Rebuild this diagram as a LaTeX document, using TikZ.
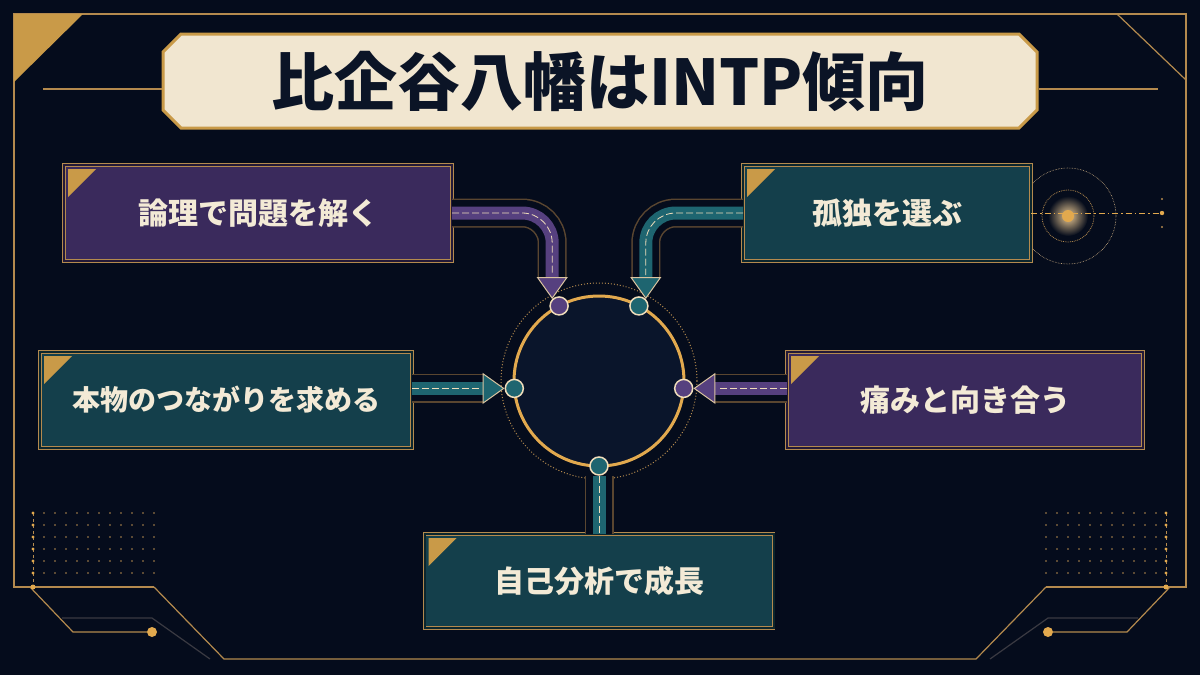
\documentclass[tikz,border=0pt]{standalone}
\usepackage{fontspec}
\setmainfont{Noto Sans CJK JP}
\usepackage{tikz}
\usetikzlibrary{positioning, arrows.meta, shapes.misc}
\definecolor{BgNavy}{HTML}{050C1C}
\definecolor{RingNavy}{HTML}{0A152B}
\definecolor{FrameGold}{HTML}{B48A4E}
\definecolor{BrightGold}{HTML}{E2A94E}
\definecolor{CornerGold}{HTML}{C99A48}
\definecolor{Cream}{HTML}{F3EAD6}
\definecolor{TitlePaper}{HTML}{F1E6D0}
\definecolor{TitleInk}{HTML}{0B1426}
\definecolor{BoxPurple}{HTML}{3A2A5C}
\definecolor{BoxTeal}{HTML}{143F4B}
\definecolor{ArrowPurple}{HTML}{56407F}
\definecolor{ArrowTeal}{HTML}{1E6570}
\definecolor{ChanLine}{HTML}{5A4630}
\definecolor{DimLine}{HTML}{3A3A42}

\begin{document}
\begin{tikzpicture}[
            x=1pt, y=-1pt,
            frame/.style={draw=FrameGold, line width=1.2pt},
            dimframe/.style={draw=DimLine, line width=1.2pt},
            titlebox/.style={chamfered rectangle, chamfered rectangle sep=9pt, draw=CornerGold, line width=3pt, fill=TitlePaper, text=TitleInk, minimum width=874pt, minimum height=94pt, inner sep=0pt, font=\fontsize{63}{66}\selectfont\bfseries},
            card/.style={draw=FrameGold, double=#1!60!black, double distance=2pt, line width=0.9pt, fill=#1, text=Cream, minimum height=96pt, inner sep=0pt, outer sep=0pt, font=\fontsize{30}{34}\selectfont\bfseries},
            port/.style={circle, draw=Cream!80!BrightGold, line width=1.5pt, fill=#1, minimum size=18pt, inner sep=0pt},
            ribbon/.style={draw=#1, line width=13pt, rounded corners=30pt,
                preaction={draw=ChanLine, line width=29pt, arrows=-, shorten >=22pt},
                preaction={draw=BgNavy, line width=26pt, arrows=-, shorten >=22pt},
                postaction={draw=Cream!80!BrightGold, line width=0.8pt, dash pattern=on 7pt off 3pt, arrows=-, shorten >=24pt},
                -{Triangle[length=22pt, width=31pt, line width=1pt, color=Cream!60!FrameGold, fill=#1]}},
            link/.style={draw=#1, line width=13pt,
                preaction={draw=ChanLine, line width=29pt},
                preaction={draw=BgNavy, line width=26pt},
                postaction={draw=Cream!80!BrightGold, line width=0.8pt, dash pattern=on 7pt off 3pt}}
        ]
            
            \useasboundingbox (0,0) rectangle (1200,675);
            \fill[BgNavy] (0,0) rectangle (1200,675);
            
            % outer frame
            \draw[frame] (154,587) -- (14,587) -- (14,14) -- (1186,14) -- (1186,587) -- (1046,587);
            \fill[CornerGold] (14,14) -- (83,14) -- (14,82) -- cycle;
            \draw[frame] (1117,14) -- (1186,80);
            \draw[frame] (154,587) -- (224,659) -- (976,659) -- (1046,587);
            \draw[dimframe] (62,618) -- (152,618) -- (210,659);
            \draw[dimframe] (1138,618) -- (1048,618) -- (990,659);
            \draw[frame] (30,587) -- (73,632) -- (147,632);
            \draw[frame] (1170,587) -- (1127,632) -- (1053,632);
            \fill[BrightGold] (152,632) circle (5) (1048,632) circle (5);
            
            % dot grids
            \foreach \i in {1,...,11}
                \foreach \j in {0,...,5}
                    \fill[FrameGold] (33+11*\i,513+12*\j) circle (0.9) (1167-11*\i,513+12*\j) circle (0.9);
            \draw[FrameGold, dashed, line width=0.8pt] (33,513) -- (33,587);
            \draw[FrameGold, dashed, line width=0.8pt] (1166,513) -- (1166,587);
            \foreach \j in {0,...,5}
                \fill[BrightGold] (33,513+12*\j) circle (1.6) (1166,513+12*\j) circle (1.6);
            \fill[BrightGold] (33,587) circle (2.5) (1166,587) circle (2.5);
            
            % title
            \node[titlebox] (title) at (600,81) {比企谷八幡はINTP傾向};
            \draw[frame] ([yshift=-8pt]title.west) -- ++(-119,0);
            \draw[frame] ([yshift=-8pt]title.east) -- ++(119,0);
            
            % beacon right of the second card
            \shade[inner color=BrightGold!60, outer color=BgNavy] (1068,216) circle (20);
            \draw[FrameGold, densely dotted, line width=0.8pt] (1068,216) circle (26);
            \draw[FrameGold!70, densely dotted, line width=0.6pt] (1068,216) circle (48);
            \fill[BrightGold] (1068,216) circle (6);
            
            % hub
            \node[circle, draw=FrameGold, dotted, line width=1pt, minimum size=196pt] (halo) at (599,381) {};
            \node[circle, draw=BrightGold, line width=3pt, fill=RingNavy, minimum size=170pt, inner sep=0pt, outer sep=0pt] (ring) at (599,381) {};
            
            % cards
            \node[card=BoxPurple, minimum width=388pt] (logic) at (258,213) {論理で問題を解く};
            \node[card=BoxTeal, minimum width=288pt] (solitude) at (887,213) {孤独を選ぶ};
            \node[card=BoxTeal, minimum width=372pt, font=\fontsize{28}{32}\selectfont\bfseries] (bond) at (226,400) {本物のつながりを求める};
            \node[card=BoxPurple, minimum width=356pt] (pain) at (965,400) {痛みと向き合う};
            \node[card=BoxTeal, minimum width=349pt, minimum height=94pt] (growth) at (599,581) {自己分析で成長};
            \foreach \b in {logic, solitude, bond, pain, growth}
                \fill[CornerGold] ([shift={(4,4)}]\b.north west) -- ++(28,0) -- ++(-28,28) -- cycle;
            
            \draw[BrightGold, line width=1pt, dash pattern=on 6pt off 3pt on 1.5pt off 3pt] (solitude.east) -- ++(130,0);
            \fill[BrightGold] (1162,213) circle (2.2);
            \fill[FrameGold] (1162,199) circle (1.2) (1162,227) circle (1.2);
            
            % ports on the ring
            \node[port=ArrowPurple] (pUL) at (ring.118) {};
            \node[port=ArrowTeal] (pUR) at (ring.62) {};
            \node[port=ArrowTeal] (pL) at (ring.185) {};
            \node[port=ArrowPurple] (pR) at (ring.355) {};
            \node[port=ArrowTeal] (pB) at (ring.270) {};
            
            % ribbons
            \draw[ribbon=ArrowPurple] (logic.east) -| (pUL.north west);
            \draw[ribbon=ArrowTeal] (solitude.west) -| (pUR.north east);
            \draw[ribbon=ArrowTeal] (bond.east |- pL.west) -- (pL.west);
            \draw[ribbon=ArrowPurple] (pain.west |- pR.east) -- (pR.east);
            \draw[link=ArrowTeal] (pB.south) -- (growth.north);
            
        \end{tikzpicture}
\end{document}
